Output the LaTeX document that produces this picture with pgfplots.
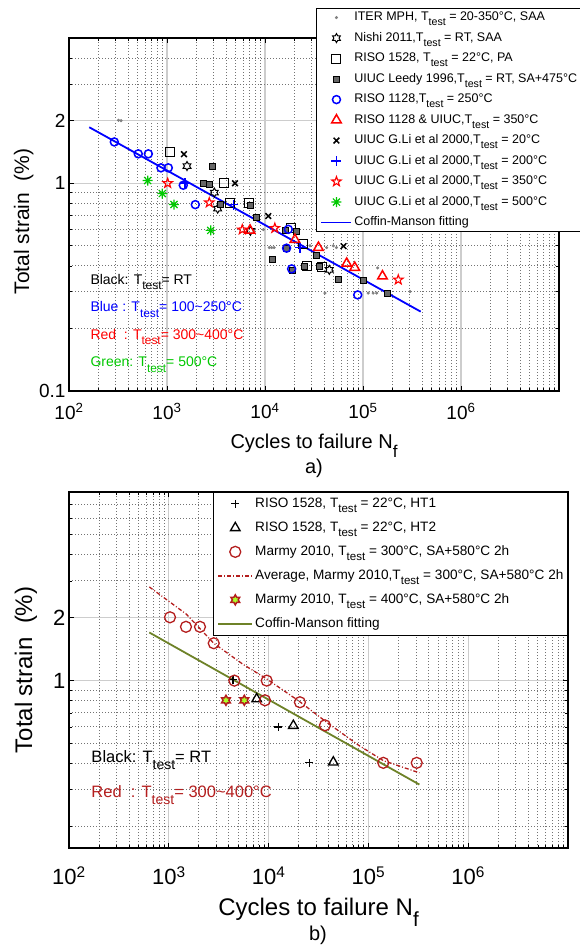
\documentclass[border=0pt]{standalone}
\usepackage{fontspec}
\setmainfont{Liberation Sans}
\usepackage{graphicx}
\usepackage{pgfplots}
\pgfplotsset{compat=1.18}
\usetikzlibrary{plotmarks}

\definecolor{mblue}{RGB}{0,0,255}
\definecolor{mred}{RGB}{255,0,0}
\definecolor{mgreen}{RGB}{0,200,0}
\definecolor{dred}{RGB}{180,30,30}
\definecolor{olive2}{RGB}{110,130,40}
\definecolor{ygreen}{RGB}{170,255,40}
\definecolor{gridgray}{RGB}{205,205,205}
\definecolor{mingray}{RGB}{115,115,115}

\newcommand\tsub[1]{\raisebox{-0.42em}[0pt][0pt]{\scalebox{0.85}{#1}}}
\newcommand\fs[1]{\fontsize{#1}{#1}\selectfont}

\pgfdeclareplotmark{hexagram}{%
  \pgfpathmoveto{\pgfpointpolar{90}{\pgfplotmarksize}}%
  \pgfpathlineto{\pgfpointpolar{120}{0.577\pgfplotmarksize}}%
  \pgfpathlineto{\pgfpointpolar{150}{\pgfplotmarksize}}%
  \pgfpathlineto{\pgfpointpolar{180}{0.577\pgfplotmarksize}}%
  \pgfpathlineto{\pgfpointpolar{210}{\pgfplotmarksize}}%
  \pgfpathlineto{\pgfpointpolar{240}{0.577\pgfplotmarksize}}%
  \pgfpathlineto{\pgfpointpolar{270}{\pgfplotmarksize}}%
  \pgfpathlineto{\pgfpointpolar{300}{0.577\pgfplotmarksize}}%
  \pgfpathlineto{\pgfpointpolar{330}{\pgfplotmarksize}}%
  \pgfpathlineto{\pgfpointpolar{0}{0.577\pgfplotmarksize}}%
  \pgfpathlineto{\pgfpointpolar{30}{\pgfplotmarksize}}%
  \pgfpathlineto{\pgfpointpolar{60}{0.577\pgfplotmarksize}}%
  \pgfpathclose\pgfusepathqstroke}
\pgfdeclareplotmark{hexagram*}{%
  \pgfpathmoveto{\pgfpointpolar{90}{\pgfplotmarksize}}%
  \pgfpathlineto{\pgfpointpolar{120}{0.577\pgfplotmarksize}}%
  \pgfpathlineto{\pgfpointpolar{150}{\pgfplotmarksize}}%
  \pgfpathlineto{\pgfpointpolar{180}{0.577\pgfplotmarksize}}%
  \pgfpathlineto{\pgfpointpolar{210}{\pgfplotmarksize}}%
  \pgfpathlineto{\pgfpointpolar{240}{0.577\pgfplotmarksize}}%
  \pgfpathlineto{\pgfpointpolar{270}{\pgfplotmarksize}}%
  \pgfpathlineto{\pgfpointpolar{300}{0.577\pgfplotmarksize}}%
  \pgfpathlineto{\pgfpointpolar{330}{\pgfplotmarksize}}%
  \pgfpathlineto{\pgfpointpolar{0}{0.577\pgfplotmarksize}}%
  \pgfpathlineto{\pgfpointpolar{30}{\pgfplotmarksize}}%
  \pgfpathlineto{\pgfpointpolar{60}{0.577\pgfplotmarksize}}%
  \pgfpathclose\pgfusepathqfillstroke}
\pgfdeclareplotmark{pentagram}{%
  \pgfpathmoveto{\pgfpointpolar{90}{\pgfplotmarksize}}%
  \pgfpathlineto{\pgfpointpolar{126}{0.40\pgfplotmarksize}}%
  \pgfpathlineto{\pgfpointpolar{162}{\pgfplotmarksize}}%
  \pgfpathlineto{\pgfpointpolar{198}{0.40\pgfplotmarksize}}%
  \pgfpathlineto{\pgfpointpolar{234}{\pgfplotmarksize}}%
  \pgfpathlineto{\pgfpointpolar{270}{0.40\pgfplotmarksize}}%
  \pgfpathlineto{\pgfpointpolar{306}{\pgfplotmarksize}}%
  \pgfpathlineto{\pgfpointpolar{342}{0.40\pgfplotmarksize}}%
  \pgfpathlineto{\pgfpointpolar{18}{\pgfplotmarksize}}%
  \pgfpathlineto{\pgfpointpolar{54}{0.40\pgfplotmarksize}}%
  \pgfpathclose\pgfusepathqstroke}
\pgfdeclareplotmark{ast8}{%
  \pgfpathmoveto{\pgfqpoint{-\pgfplotmarksize}{0pt}}\pgfpathlineto{\pgfqpoint{\pgfplotmarksize}{0pt}}%
  \pgfpathmoveto{\pgfqpoint{0pt}{-\pgfplotmarksize}}\pgfpathlineto{\pgfqpoint{0pt}{\pgfplotmarksize}}%
  \pgfpathmoveto{\pgfpointpolar{45}{\pgfplotmarksize}}\pgfpathlineto{\pgfpointpolar{225}{\pgfplotmarksize}}%
  \pgfpathmoveto{\pgfpointpolar{135}{\pgfplotmarksize}}\pgfpathlineto{\pgfpointpolar{315}{\pgfplotmarksize}}%
  \pgfusepathqstroke}

\begin{document}
\begin{tikzpicture}
% ================= Panel a =================
\begin{axis}[
  xmode=log, ymode=log, scale only axis,
  xmin=100, xmax=1e7,
  axis line style={line width=1.6pt},
  major tick length=5pt, minor tick length=3pt,
  tick align=inside,
  tick style={black, line width=0.8pt},
  xtick={100,1000,10000,100000,1000000},
  minor xtick={200,300,400,500,600,700,800,900,2000,3000,4000,5000,6000,7000,8000,9000,20000,30000,40000,50000,60000,70000,80000,90000,200000,300000,400000,500000,600000,700000,800000,900000,2000000,3000000,4000000,5000000,6000000,7000000,8000000,9000000},
  grid=both,
  major grid style={gridgray, line width=1.1pt},
  minor grid style={mingray, dash pattern=on 1pt off 2pt, line width=1pt},
  legend cell align=left,
  at={(69pt,557pt)}, anchor=south west,
  width=490pt, height=353pt,
  ymin=0.1, ymax=5,
  ytick={0.1,1,2}, yticklabels={0.1,1,2},
  minor ytick={0.2,0.3,0.4,0.5,0.6,0.7,0.8,0.9,3,4},
  xticklabels={10\textsuperscript{2},10\textsuperscript{3},10\textsuperscript{4},10\textsuperscript{5},10\textsuperscript{6}},
  ticklabel style={font=\fs{19}},
  xticklabel style={yshift=-9pt},
  xlabel={Cycles to failure N\tsub{f}},
  xlabel style={font=\fs{20}, at={(axis description cs:0.5,-0.164)}, anchor=base},
  ylabel={Total strain\ \ (\%)},
  ylabel style={font=\fs{21}, at={(axis description cs:-0.0816,0.48)}, anchor=base},
  legend image code/.code={\draw[mark repeat=2,mark phase=2,#1] plot coordinates {(0pt,0pt) (15pt,0pt) (30pt,0pt)};},
  legend style={at={(axis description cs:0.504,1.085)}, anchor=north west,
    draw=black, line width=1.2pt, fill=white, font=\fs{12.5},
    inner xsep=4pt, inner ysep=3pt, row sep=8.5pt, column sep=2pt,
    nodes={inner sep=0pt, text height=9pt, text depth=3pt}},
]
\addplot[only marks, mark=*, mark size=1.3pt, color=gray, line width=0.5pt] coordinates {
 (320,2.01) (340,2.0) (7780,0.598) (9620,0.598) (11060,0.49) (11700,0.49) (12400,0.49)
 (28800,0.50) (42600,0.49) (49800,0.50) (53600,0.49) (40900,0.296) (113000,0.296)
 (127000,0.296) (138000,0.296) (141000,0.391) (302000,0.301)
};
\addlegendentry{ITER MPH, T\tsub{test} = 20-350°C, SAA}
\addplot[only marks, mark=hexagram, mark size=4.5pt, black, line width=1pt] coordinates {
 (1600,1.21) (3040,0.902) (3290,0.755) (7100,0.59) (45300,0.383)
};
\addlegendentry{Nishi 2011,T\tsub{test} = RT, SAA}
\addplot[only marks, mark=square, mark size=4.5pt, black, line width=1pt] coordinates {
 (1074,1.416) (3850,1.003) (4400,0.80) (6820,0.80) (18400,0.608) (24600,0.512)
 (26600,0.401) (37800,0.397)
};
\addlegendentry{RISO 1528, T\tsub{test} = 22°C, PA}
\addplot[only marks, mark=square*, mark size=3pt, black, line width=0.8pt, mark options={fill=gray!80!black}] coordinates {
 (2880,1.21) (2340,1.0) (2700,0.985) (3470,0.79) (7030,0.78) (8220,0.687) (16000,0.593)
 (20700,0.588) (11800,0.431) (33300,0.45) (56000,0.343) (102000,0.34) (177000,0.296)
 (19000,0.38) (16600,0.487) (25000,0.40) (36000,0.40)
};
\addlegendentry{UIUC Leedy 1996,T\tsub{test} = RT, SA+475°C 0.5h}
\addplot[only marks, mark=o, mark size=4pt, mblue, line width=1.5pt] coordinates {
 (290,1.58) (509,1.385) (645,1.385) (868,1.186) (1031,1.186) (1466,0.978) (1945,0.789)
 (16600,0.487) (18700,0.387) (88300,0.29) (17300,0.60)
};
\addlegendentry{RISO 1128,T\tsub{test} = 250°C}
\addplot[only marks, mark=triangle, mark size=5.5pt, mred, line width=1.5pt] coordinates {
 (7030,0.593) (20200,0.535) (35100,0.49) (68200,0.411) (82300,0.393) (158000,0.357)
};
\addlegendentry{RISO 1128 \& UIUC,T\tsub{test} = 350°C}
\addplot[only marks, mark=x, mark size=4pt, black, line width=1.5pt] coordinates {
 (1490,1.38) (4940,1.0) (10800,0.695) (63300,0.498)
};
\addlegendentry{UIUC G.Li et al 2000,T\tsub{test} = 20°C}
\addplot[only marks, mark=+, mark size=5pt, mblue, line width=1.5pt] coordinates {
 (1530,1.0) (4750,0.789) (22800,0.49)
};
\addlegendentry{UIUC G.Li et al 2000,T\tsub{test} = 200°C}
\addplot[only marks, mark=pentagram, mark size=5pt, mred, line width=1.1pt] coordinates {
 (1016,1.0) (2700,0.807) (5860,0.598) (12600,0.608) (229000,0.343)
};
\addlegendentry{UIUC G.Li et al 2000,T\tsub{test} = 350°C}
\addplot[only marks, mark=ast8, mark size=5pt, mgreen, line width=1.2pt] coordinates {
 (635,1.03) (896,0.892) (1178,0.79) (2793,0.593)
};
\addlegendentry{UIUC G.Li et al 2000,T\tsub{test} = 500°C}
\addplot[mblue, line width=1.8pt, no marks] coordinates {(161,1.86) (388000,0.241)};
\addlegendentry{Coffin-Manson fitting}

\node[anchor=base west, font=\fs{14}, text=black] at (axis description cs:0.0367,0.303) {Black: T\tsub{test}= RT};
\node[anchor=base west, font=\fs{14}, text=mblue] at (axis description cs:0.0367,0.224) {Blue : T\tsub{test}= 100\textasciitilde250°C};
\node[anchor=base west, font=\fs{14}, text=mred] at (axis description cs:0.0367,0.147) {Red\ \ : T\tsub{test}= 300\textasciitilde400°C};
\node[anchor=base west, font=\fs{14}, text=mgreen] at (axis description cs:0.0367,0.068) {Green: T\tsub{test}= 500°C};
\end{axis}

% ================= Panel b =================
\begin{axis}[
  xmode=log, ymode=log, scale only axis,
  xmin=100, xmax=1e7,
  axis line style={line width=1.6pt},
  major tick length=5pt, minor tick length=3pt,
  tick align=inside,
  tick style={black, line width=0.8pt},
  xtick={100,1000,10000,100000,1000000},
  minor xtick={200,300,400,500,600,700,800,900,2000,3000,4000,5000,6000,7000,8000,9000,20000,30000,40000,50000,60000,70000,80000,90000,200000,300000,400000,500000,600000,700000,800000,900000,2000000,3000000,4000000,5000000,6000000,7000000,8000000,9000000},
  grid=both,
  major grid style={gridgray, line width=1.1pt},
  minor grid style={mingray, dash pattern=on 1pt off 2pt, line width=1pt},
  legend cell align=left,
  at={(69pt,100pt)}, anchor=south west,
  width=499pt, height=356pt,
  ymin=0.158, ymax=8,
  ytick={1,2}, yticklabels={1,2},
  minor ytick={0.2,0.3,0.4,0.5,0.6,0.7,0.8,0.9,3,4,5,6,7},
  xticklabels={10\textsuperscript{2},10\textsuperscript{3},10\textsuperscript{4},10\textsuperscript{5},10\textsuperscript{6}},
  ticklabel style={font=\fs{22}},
  xticklabel style={yshift=-15pt},
  xlabel={Cycles to failure N\tsub{f}},
  xlabel style={font=\fs{24}, at={(axis description cs:0.5,-0.191)}, anchor=base},
  ylabel={Total strain\ \ (\%)},
  ylabel style={font=\fs{24}, at={(axis description cs:-0.074,0.5)}, anchor=base},
  legend image code/.code={\draw[mark repeat=2,mark phase=2,#1] plot coordinates {(0pt,0pt) (17pt,0pt) (34pt,0pt)};},
  legend style={at={(axis description cs:1,1)}, anchor=north east,
    draw=black, line width=1.2pt, fill=white, font=\fs{13.6},
    inner xsep=4pt, inner ysep=4pt, row sep=9.5pt, column sep=2pt,
    nodes={inner sep=0pt, text height=10.5pt, text depth=4pt}},
]
\addplot[only marks, mark=+, mark size=4pt, black, line width=1.2pt] coordinates {
 (4400,1.01) (12500,0.6) (25600,0.404)
};
\addlegendentry{RISO 1528, T\tsub{test} = 22°C, HT1}
\addplot[only marks, mark=triangle, mark size=5.5pt, black, line width=1.3pt] coordinates {
 (7590,0.817) (17700,0.609) (44500,0.407)
};
\addlegendentry{RISO 1528, T\tsub{test} = 22°C, HT2}
\addplot[only marks, mark=o, mark size=5.5pt, dred, line width=1.3pt] coordinates {
 (1028,2.01) (1486,1.81) (2053,1.81) (2820,1.51) (4540,1.0) (9570,1.0) (9200,0.805)
 (20600,0.788) (36700,0.611) (141000,0.404) (305000,0.404)
};
\addlegendentry{Marmy 2010, T\tsub{test} = 300°C, SA+580°C 2h}
\addplot[dred, line width=1.3pt, dash pattern=on 4pt off 2pt on 1pt off 2pt, no marks] coordinates {
 (638,2.81) (1500,2.08) (2820,1.51) (5500,1.20) (9570,1.019) (20000,0.80) (38200,0.632) (80000,0.49) (141000,0.414) (324000,0.362)
};
\addlegendentry{Average, Marmy 2010,T\tsub{test} = 300°C, SA+580°C 2h}
\addplot[only marks, mark=hexagram*, mark size=5pt, dred, line width=1.5pt, mark options={fill=ygreen}] coordinates {
 (3740,0.805) (5710,0.805)
};
\addlegendentry{Marmy 2010, T\tsub{test} = 400°C, SA+580°C 2h}
\addplot[olive2, line width=1.8pt, no marks] coordinates {(638,1.70) (324000,0.318)};
\addlegendentry{Coffin-Manson fitting}

\node[anchor=base west, font=\fs{16.5}, text=black] at (axis description cs:0.038,0.239) {Black: T\tsub{test}= RT};
\node[anchor=base west, font=\fs{16.5}, text=dred] at (axis description cs:0.038,0.143) {Red\ \ : T\tsub{test}= 300\textasciitilde400°C};
\end{axis}

\node[anchor=base, font=\fs{20}] at (314pt,474pt) {a)};
\node[anchor=base, font=\fs{20}] at (318pt,8pt) {b)};

\pgfresetboundingbox
\path[use as bounding box] (0pt,0pt) rectangle (579pt,948pt);
\end{tikzpicture}
\end{document}
